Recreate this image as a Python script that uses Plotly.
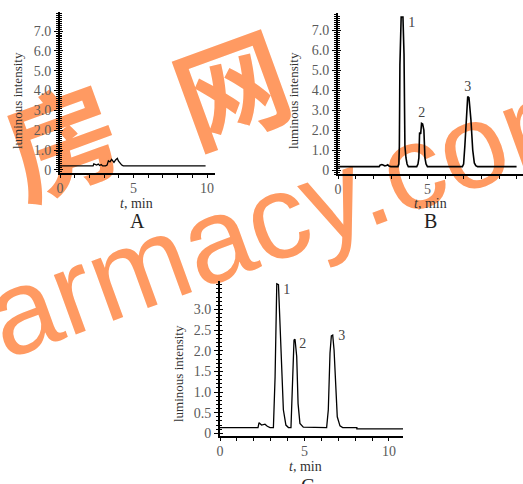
import plotly.graph_objects as go

# ---------------- data ----------------
t_A = [0, 2.25, 2.3, 2.4, 2.5, 2.6, 2.7, 2.8, 2.9, 3.1, 3.2, 3.29, 3.4, 3.51, 3.6, 3.67, 3.78, 3.9, 3.97, 4.04, 4.12, 4.2, 4.3, 4.8, 4.9, 5.2, 5.3, 9.9]
y_A = [0.2, 0.2, 0.3, 0.28, 0.24, 0.29, 0.22, 0.27, 0.2, 0.2, 0.24, 0.46, 0.4, 0.53, 0.42, 0.38, 0.5, 0.58, 0.45, 0.38, 0.29, 0.24, 0.2, 0.2, 0.23, 0.23, 0.2, 0.2]

t_B = [0, 2.3, 2.35, 2.45, 2.55, 2.62, 2.7, 2.78, 2.85, 2.95, 3.35, 3.4, 3.43, 3.46, 3.53, 3.63, 3.69, 3.74, 3.8, 3.86, 3.93,
       4.4, 4.47, 4.52, 4.56, 4.62, 4.67, 4.73, 4.8, 4.86, 4.92, 5.0,
       6.95, 7.02, 7.09, 7.19, 7.25, 7.32, 7.43, 7.53, 7.62, 7.7, 7.8, 9.98]
y_B = [0.17, 0.17, 0.24, 0.27, 0.24, 0.2, 0.22, 0.26, 0.2, 0.17, 0.17, 0.3, 1.2, 5.25, 7.65, 7.65, 5.8, 1.2, 0.6, 0.3, 0.17,
       0.17, 0.3, 0.6, 1.87, 1.8, 2.33, 2.3, 2.0, 0.6, 0.3, 0.17,
       0.17, 0.3, 1.2, 3.2, 3.67, 3.62, 2.5, 1.0, 0.35, 0.22, 0.17, 0.17]

t_C = [0, 2.25, 2.31, 2.46, 2.66, 2.8, 2.96, 3.16, 3.26, 3.31, 3.36, 3.46, 3.55, 3.65, 3.75, 3.9, 4.05,
       4.2, 4.3, 4.38, 4.44, 4.54, 4.62, 4.73, 4.93,
       6.31, 6.41, 6.51, 6.59, 6.67, 6.75, 6.85, 6.94, 7.1, 7.26, 8.1, 8.1, 10.83]
y_C = [0.136, 0.136, 0.257, 0.2, 0.22, 0.17, 0.14, 0.14, 1.37, 2.78, 3.62, 3.6, 2.74, 1.53, 0.57, 0.2, 0.14,
       0.14, 1.25, 2.26, 2.28, 1.86, 0.72, 0.24, 0.15,
       0.14, 0.57, 1.94, 2.36, 2.38, 2.02, 0.97, 0.4, 0.18, 0.14, 0.136, 0.11, 0.11]

ytick_AB = [0, 1, 2, 3, 4, 5, 6, 7]
ytext_AB = ["0", "1.0", "2.0", "3.0", "4.0", "5.0", "6.0", "7.0"]
ytick_C = [0, 0.5, 1, 1.5, 2, 2.5, 3]
ytext_C = ["0", "0.5", "1.0", "1.5", "2.0", "2.5", "3.0"]
xtick = [0, 5, 10]

peak_names = ["1", "2", "3"]
peak_B_t = [4.12, 4.68, 7.25]
peak_B_y = [7.35, 2.85, 4.15]
peak_C_t = [3.95, 4.89, 7.2]
peak_C_y = [3.45, 2.14, 2.34]

W, H = 523, 484
SERIF = "Liberation Serif"
TICKFONT = dict(family=SERIF, size=14, color="#5a5a5a")
ORANGE = "#FF9A62"


def px_x(p):
    return p / W


def px_y(p):
    return 1 - p / H


fig = go.Figure()
fig.add_trace(go.Scatter(x=t_A, y=y_A, mode="lines", line=dict(color="black", width=1.3), xaxis="x", yaxis="y", showlegend=False))
fig.add_trace(go.Scatter(x=t_B, y=y_B, mode="lines", line=dict(color="black", width=1.6), xaxis="x2", yaxis="y2", showlegend=False))
fig.add_trace(go.Scatter(x=t_C, y=y_C, mode="lines", line=dict(color="black", width=1.3), xaxis="x3", yaxis="y3", showlegend=False))
# peak labels
fig.add_trace(go.Scatter(x=peak_B_t, y=peak_B_y, mode="text", text=peak_names, textfont=dict(family=SERIF, size=14, color="#444"),
                         xaxis="x2", yaxis="y2", showlegend=False))
fig.add_trace(go.Scatter(x=peak_C_t, y=peak_C_y, mode="text", text=peak_names, textfont=dict(family=SERIF, size=14, color="#444"),
                         xaxis="x3", yaxis="y3", showlegend=False))
# empty traces for overlay axes (inner tick marks)
for ya, xa in (("y4", "x"), ("y5", "x2"), ("y6", "x3")):
    fig.add_trace(go.Scatter(x=[], y=[], xaxis=xa, yaxis=ya, showlegend=False))


def xax(dom, rng, anchor):
    return dict(domain=dom, range=rng, anchor=anchor, tickvals=xtick, ticks="outside", ticklen=3, tickwidth=1,
                tickcolor="black", minor=dict(dtick=1, tick0=0, ticks="outside", ticklen=3, tickwidth=1, tickcolor="black"),
                showline=True, linewidth=2, linecolor="black", showgrid=False, zeroline=False, tickfont=TICKFONT,
                ticklabelstandoff=-2)


def yax(dom, rng, anchor, vals, texts, mdt):
    return dict(domain=dom, range=rng, anchor=anchor, tickvals=vals, ticktext=texts, ticks="outside", ticklen=4,
                tickwidth=1, tickcolor="black",
                minor=dict(dtick=mdt, tick0=0, ticks="outside", ticklen=2, tickwidth=1, tickcolor="black"),
                showline=True, linewidth=2, linecolor="black", showgrid=False, zeroline=False, tickfont=TICKFONT)


def yover(over, anchor, rng, vals, mdt):
    return dict(overlaying=over, anchor=anchor, range=rng, side="left", tickvals=vals, showticklabels=False,
                ticks="inside", ticklen=3, tickwidth=1, tickcolor="black",
                minor=dict(dtick=mdt, tick0=0, ticks="inside", ticklen=2, tickwidth=1, tickcolor="black"),
                showline=False, showgrid=False, zeroline=False)


rA = [-0.16, 7.96]
rB = [-0.2, 7.85]
rC = [-0.065, 3.69]

layout = dict(
    width=W, height=H, margin=dict(l=0, r=0, t=0, b=0, autoexpand=False),
    paper_bgcolor="white", plot_bgcolor="rgba(0,0,0,0)",
    xaxis=xax([px_x(60), px_x(215)], [0, 10.54], "y"),
    yaxis=yax([px_y(173), px_y(12)], rA, "x", ytick_AB, ytext_AB, 0.1),
    xaxis2=xax([px_x(338), 1.0], [0, 10.34], "y2"),
    yaxis2=yax([px_y(174), px_y(13)], rB, "x2", ytick_AB, ytext_AB, 0.1),
    xaxis3=xax([px_x(220), px_x(403)], [0, 10.83], "y3"),
    yaxis3=yax([px_y(436), px_y(281)], rC, "x3", ytick_C, ytext_C, 0.1),
    yaxis4=yover("y", "x", rA, ytick_AB, 0.1),
    yaxis5=yover("y2", "x2", rB, ytick_AB, 0.1),
    yaxis6=yover("y3", "x3", rC, ytick_C, 0.1),
)
fig.update_layout(**layout)

annos = []
TITLEFONT = dict(family=SERIF, size=13, color="#333")
for x, y in ((17, 101), (293, 101), (178, 374)):
    annos.append(dict(x=px_x(x), y=px_y(y), xref="paper", yref="paper", text="luminous intensity", textangle=-90,
                      showarrow=False, font=TITLEFONT, xanchor="center", yanchor="middle"))
for x, y in ((136, 203), (430, 203), (305, 466)):
    annos.append(dict(x=px_x(x), y=px_y(y), xref="paper", yref="paper", text="<i>t</i>, min",
                      showarrow=False, font=dict(family=SERIF, size=14, color="#333"), xanchor="center", yanchor="middle"))
for x, y, s in ((137, 221, "A"), (430, 221, "B"), (307, 486, "C")):
    annos.append(dict(x=px_x(x), y=px_y(y), xref="paper", yref="paper", text=s,
                      showarrow=False, font=dict(family=SERIF, size=20, color="#222"), xanchor="center", yanchor="middle"))
fig.update_layout(annotations=annos)

# watermark (drawn below the chart)
shapes = []
for cx, cy, txt, fam, size, wt in ((66, 152, "房", "Noto Sans CJK SC", 112, 700),
                                    (236, 100, "网", "Noto Sans CJK SC", 112, 700),
                                    (290, 200, "armacy.com", "Liberation Sans", 120, 400)):
    shapes.append(dict(type="rect", xref="paper", yref="paper",
                       x0=px_x(cx) - 0.005, x1=px_x(cx) + 0.005, y0=px_y(cy) - 0.005, y1=px_y(cy) + 0.005,
                       line=dict(width=0), fillcolor="rgba(0,0,0,0)", layer="below",
                       label=dict(text=txt, textangle=-20, textposition="middle center",
                                  font=dict(family=fam, size=size, color=ORANGE, weight=wt))))
fig.update_layout(shapes=shapes)

fig.write_html("out.html", config={"displayModeBar": False},
               post_script="document.body.style.margin='0px';document.body.style.padding='0px';")
